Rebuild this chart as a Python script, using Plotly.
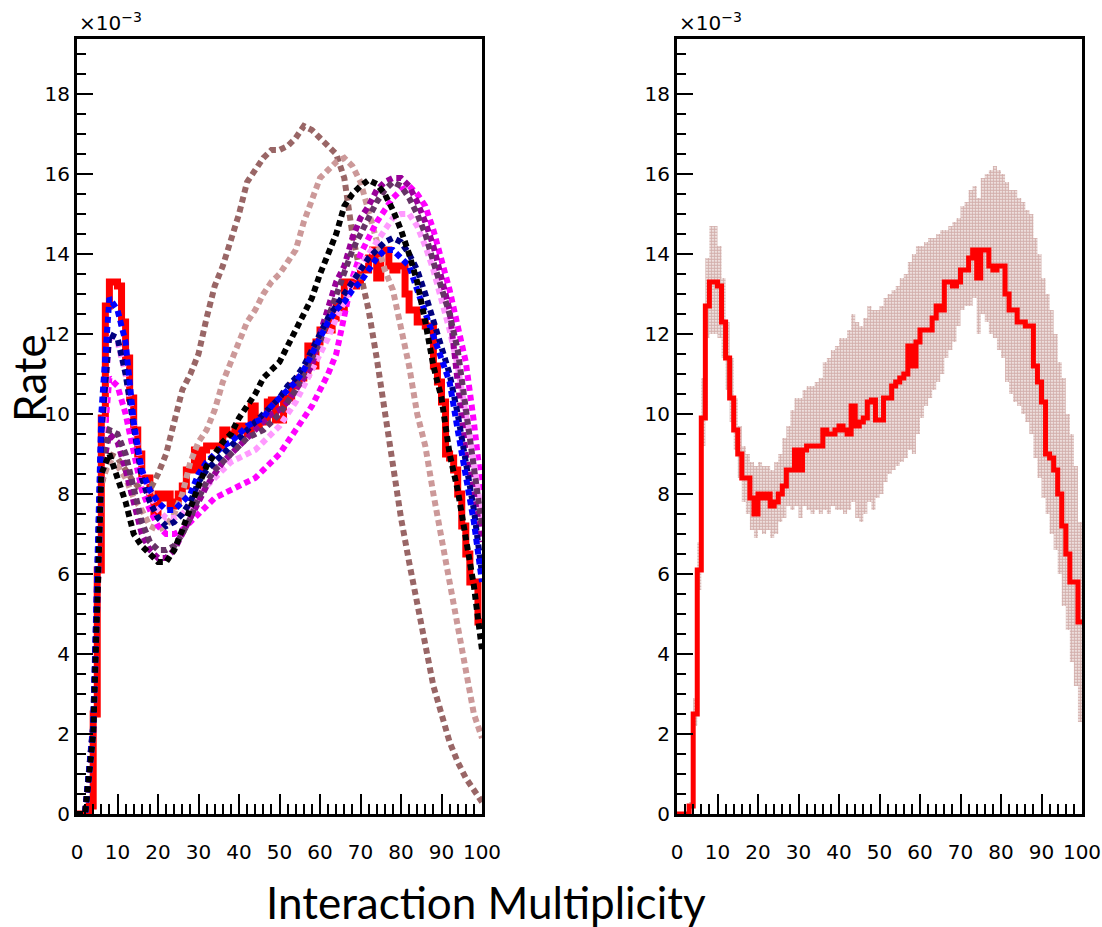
import plotly.graph_objects as go

# Histogram bin edges (right panel + red data) and sample points for dotted curves
x_edges = list(range(101))
x_pts = list(range(0, 101, 2))

# Data histogram (units of 1e-3), one value per unit bin 0..99
rate_red = [0, 0, 0, 0.2, 2.5, 6.1, 9.9, 12.7, 13.3, 13.3,
            13.2, 12.3, 11.4, 10.4, 9.6, 9.0, 8.4, 8.4, 7.9, 7.5,
            8.0, 7.9, 8.0, 7.7, 7.8, 8.0, 8.2, 8.6, 8.6, 9.1,
            8.6, 9.1, 9.2, 9.2, 9.2, 9.2, 9.6, 9.5, 9.5, 9.6,
            9.7, 9.6, 9.5, 10.2, 9.7, 9.8, 9.9, 10.3, 10.35, 9.85,
            9.85, 10.4, 10.4, 10.7, 10.8, 10.9, 11.0, 11.7, 11.2, 11.8,
            12.1, 12.1, 12.1, 12.4, 12.7, 12.6, 13.3, 13.3, 13.2, 13.3,
            13.6, 13.6, 13.9, 14.1, 13.4, 14.1, 14.1, 13.7, 13.6, 13.7,
            13.7, 13.0, 12.6, 12.6, 12.3, 12.3, 12.2, 12.2, 11.2, 10.8,
            10.3, 9.0, 8.9, 8.6, 8.0, 7.2, 6.5, 5.8, 5.8, 4.8]

# Systematic band (lower / upper edge)
band_lo = [0, 0, 0, 0.1, 2.2, 5.6, 9.2, 11.9, 12.0, 12.0,
           11.9, 11.4, 10.6, 9.8, 9.1, 8.4, 7.8, 7.5, 7.1, 6.9,
           7.1, 7.0, 7.1, 6.9, 7.0, 7.3, 7.4, 7.7, 7.6, 7.7,
           7.4, 7.7, 7.6, 7.5, 7.6, 7.5, 7.6, 7.5, 7.7, 7.6,
           7.6, 7.5, 7.6, 7.8, 7.4, 7.3, 7.5, 7.8, 7.6, 7.9,
           8.0, 8.3, 8.5, 8.6, 8.7, 8.8, 8.9, 9.1, 9.0, 9.5,
           9.9, 10.2, 10.4, 10.6, 10.8, 11.0, 11.4, 11.6, 11.8, 12.2,
           12.6, 12.7, 12.7, 12.9, 12.0, 12.5, 12.3, 12.0, 11.9, 11.6,
           11.4, 10.8, 10.5, 10.3, 10.2, 10.0, 9.8, 9.5, 8.9, 8.4,
           7.9, 7.5, 7.0, 6.6, 6.0, 5.2, 4.6, 3.8, 3.2, 2.3]
band_hi = [0, 0, 0, 0.3, 2.9, 6.8, 10.9, 13.9, 14.7, 14.7,
           14.2, 13.4, 12.3, 11.4, 10.4, 9.7, 9.2, 9.0, 8.8, 8.7,
           8.8, 8.7, 8.7, 8.6, 8.8, 9.0, 9.4, 9.7, 10.1, 10.4,
           10.4, 10.6, 10.7, 10.7, 10.8, 10.9, 11.3, 11.4, 11.6, 11.7,
           11.9, 11.9, 12.1, 12.5, 12.3, 12.2, 12.4, 12.7, 12.6, 12.6,
           12.7, 12.9, 13.0, 13.1, 13.2, 13.4, 13.5, 13.8, 14.0, 14.2,
           14.2, 14.3, 14.4, 14.4, 14.5, 14.6, 14.6, 14.7, 14.8, 14.9,
           15.2, 15.3, 15.6, 15.7, 15.4, 15.9, 16.0, 16.1, 16.2, 16.1,
           16.0, 15.8, 15.6, 15.6, 15.4, 15.3, 15.1, 15.0, 14.4, 14.0,
           13.4, 13.0, 12.6, 12.0, 11.3, 10.9, 10.0, 9.5, 8.7, 7.3]

# Simulation curves (units of 1e-3) at x = 0, 2, ..., 100
rate_drb = [0, 0, 2.0, 8.2, 9.0, 8.9, 8.6, 8.3, 8.1, 8.1,
            8.5, 9.0, 9.8, 10.6, 11.0, 11.5, 12.4, 13.2, 13.7, 14.3,
            15.0, 15.8, 16.1, 16.4, 16.6, 16.6, 16.7, 16.9, 17.2, 17.1,
            16.9, 16.7, 16.5, 15.9, 14.5, 13.5, 12.6, 11.4, 10.0, 8.7,
            7.4, 6.3, 5.3, 4.3, 3.2, 2.5, 1.8, 1.3, 0.9, 0.6,
            0.3]
rate_lr = [0, 0, 2.3, 8.3, 8.8, 8.7, 8.4, 7.9, 7.6, 7.2,
           7.1, 7.2, 7.5, 8.0, 8.8, 9.3, 9.6, 10.1, 10.8, 11.3,
           11.8, 12.3, 12.6, 13.0, 13.3, 13.5, 13.8, 14.1, 14.8, 15.4,
           15.9, 16.1, 16.3, 16.4, 16.2, 15.8, 15.1, 14.3, 13.6, 13.1,
           12.2, 11.2, 10.0, 9.2, 8.0, 6.9, 5.7, 4.5, 3.4, 2.5,
           1.9]
rate_black = [0, 0, 2.0, 8.5, 9.0, 8.4, 7.8, 7.0, 6.7, 6.5,
              6.3, 6.3, 6.6, 7.1, 7.7, 8.2, 8.7, 9.0, 9.3, 9.5,
              9.9, 10.2, 10.5, 10.9, 11.1, 11.3, 11.7, 12.1, 12.5, 12.9,
              13.5, 14.0, 14.5, 15.2, 15.5, 15.7, 15.85, 15.75, 15.5, 15.1,
              14.6, 14.0, 13.3, 12.3, 11.2, 10.4, 9.0, 8.1, 6.8, 5.7,
              4.1]
rate_blue = [0, 0, 2.2, 10.0, 12.9, 12.6, 11.8, 9.8, 8.6, 8.1,
             7.8, 7.6, 7.6, 7.8, 8.0, 8.5, 8.8, 9.0, 9.2, 9.3,
             9.5, 9.7, 9.8, 9.9, 10.2, 10.4, 10.6, 10.8, 11.1, 11.5,
             11.9, 12.3, 12.6, 12.8, 13.1, 13.3, 13.6, 13.9, 14.1, 14.1,
             13.9, 13.7, 13.1, 12.5, 11.9, 11.4, 10.8, 9.6, 8.4, 7.3,
             5.8]
rate_navy = [0, 0, 2.2, 9.5, 12.0, 11.9, 11.0, 9.6, 8.4, 7.8,
             7.4, 7.2, 7.3, 7.5, 7.8, 8.3, 8.6, 8.8, 9.0, 9.2,
             9.4, 9.6, 9.8, 10.0, 10.2, 10.4, 10.7, 10.9, 11.2, 11.6,
             12.0, 12.4, 12.7, 13.0, 13.3, 13.6, 13.9, 14.1, 14.3, 14.4,
             14.3, 14.0, 13.6, 13.0, 12.3, 11.7, 11.0, 10.0, 8.9, 7.6,
             6.0]
rate_magenta = [0, 0, 2.0, 8.5, 10.9, 10.7, 10.0, 9.0, 8.1, 7.6,
                7.2, 7.0, 7.0, 7.1, 7.3, 7.5, 7.7, 7.9, 8.0, 8.1,
                8.2, 8.3, 8.4, 8.6, 8.8, 9.0, 9.3, 9.6, 9.9, 10.2,
                10.6, 11.0, 11.5, 12.4, 13.4, 14.0, 14.4, 14.8, 15.1, 15.4,
                15.6, 15.7, 15.5, 15.2, 14.6, 13.9, 13.1, 12.2, 11.3, 9.8,
                8.0]
rate_pink = [0, 0, 2.0, 9.0, 12.0, 11.8, 11.0, 9.7, 8.6, 8.0,
             7.6, 7.4, 7.4, 7.5, 7.7, 8.0, 8.2, 8.4, 8.6, 8.8,
             8.9, 9.0, 9.1, 9.3, 9.5, 9.7, 10.0, 10.3, 10.7, 11.1,
             11.5, 11.9, 12.4, 12.8, 13.3, 13.7, 14.0, 14.3, 14.6, 14.9,
             15.0, 15.0, 14.7, 14.2, 13.6, 12.9, 12.1, 11.2, 10.1, 8.8,
             7.4]
rate_purple = [0, 0, 2.0, 8.5, 9.5, 9.3, 8.6, 7.8, 7.0, 6.6,
               6.4, 6.4, 6.6, 7.0, 7.4, 7.8, 8.2, 8.5, 8.8, 9.0,
               9.2, 9.4, 9.6, 9.8, 10.0, 10.1, 10.3, 10.6, 10.9, 11.2,
               12.0, 12.7, 13.3, 13.7, 14.4, 14.9, 15.2, 15.6, 15.8, 15.9,
               15.9, 15.7, 15.3, 14.8, 14.2, 13.4, 12.6, 10.8, 9.0, 8.0,
               6.8]
rate_dpurple = [0, 0, 2.0, 8.8, 9.6, 9.5, 9.0, 8.2, 7.3, 6.8,
                6.6, 6.6, 6.7, 7.0, 7.4, 7.9, 8.3, 8.6, 8.8, 9.0,
                9.2, 9.4, 9.5, 9.6, 9.8, 10.0, 10.3, 10.6, 11.0, 11.4,
                11.8, 12.4, 13.0, 13.6, 14.1, 14.5, 14.9, 15.3, 15.6, 15.8,
                15.7, 15.4, 15.0, 14.5, 13.8, 13.2, 12.5, 11.6, 10.2, 8.8,
                7.2]

W, H = 1102, 927
fig = go.Figure()

# left panel: data (red) underneath the dotted simulation curves
fig.add_trace(go.Scatter(x=x_edges, y=rate_red + rate_red[-1:], mode="lines",
                         line=dict(color="#ff0000", width=7, shape="hv"),
                         xaxis="x", yaxis="y"))
curves = [
    (rate_drb, "#996666"),
    (rate_lr, "#cc9999"),
    (rate_magenta, "#ff00ff"),
    (rate_pink, "#ff99ff"),
    (rate_purple, "#990099"),
    (rate_dpurple, "#663366"),
    (rate_navy, "#000080"),
    (rate_blue, "#0000ff"),
    (rate_black, "#000000"),
]
for vals, col in curves:
    fig.add_trace(go.Scatter(x=x_pts, y=vals, mode="lines",
                             line=dict(color=col, width=6, dash="6px,4px"),
                             xaxis="x", yaxis="y"))

# right panel: band + data
fig.add_trace(go.Scatter(x=x_edges, y=band_lo + band_lo[-1:], mode="lines",
                         line=dict(width=0, shape="hv"), xaxis="x2", yaxis="y2"))
fig.add_trace(go.Scatter(x=x_edges, y=band_hi + band_hi[-1:], mode="lines",
                         line=dict(width=0, shape="hv"), fill="tonexty",
                         fillcolor="rgba(255,255,255,0)",
                         fillpattern=dict(shape=".", fgcolor="#a8625c", bgcolor="rgba(255,255,255,0)",
                                          size=3, solidity=0.75),
                         xaxis="x2", yaxis="y2"))
fig.add_trace(go.Scatter(x=x_edges, y=rate_red + rate_red[-1:], mode="lines",
                         line=dict(color="#ff0000", width=5, shape="hv"),
                         xaxis="x2", yaxis="y2"))

tickfont = dict(family="DejaVu Sans, sans-serif", size=20, color="black")


def xax(dom, anchor):
    return dict(domain=dom, anchor=anchor, range=[0, 100], dtick=10, tick0=0,
                ticks="inside", ticklen=20, tickwidth=2, tickcolor="black",
                minor=dict(ticks="inside", dtick=2, ticklen=10, tickwidth=2, tickcolor="black"),
                showline=True, linewidth=3, linecolor="black", mirror=True,
                showgrid=False, zeroline=False, tickfont=tickfont, ticklabelstandoff=18,
                automargin=False)


def yax(anchor):
    return dict(domain=[1 - 814 / H, 1 - 39 / H], anchor=anchor, range=[0, 19.375],
                dtick=2, tick0=0, ticks="inside", ticklen=16, tickwidth=2, tickcolor="black",
                minor=dict(ticks="inside", dtick=0.5, ticklen=9, tickwidth=2, tickcolor="black"),
                showline=True, linewidth=3, linecolor="black", mirror=True,
                showgrid=False, zeroline=False, tickfont=tickfont, ticklabelstandoff=0,
                automargin=False)


fig.update_layout(
    width=W, height=H, showlegend=False,
    paper_bgcolor="white", plot_bgcolor="white",
    margin=dict(l=0, r=0, t=0, b=0),
    xaxis=xax([77 / W, 482 / W], "y"),
    yaxis=yax("x"),
    xaxis2=xax([677 / W, 1082 / W], "y2"),
    yaxis2=yax("x2"),
)

for x0 in (77, 677):
    fig.add_annotation(text="×10<sup>−3</sup>", x=x0 / W, y=1 - 37 / H, xref="paper", yref="paper",
                       xanchor="left", yanchor="bottom", showarrow=False,
                       font=dict(family="DejaVu Sans, sans-serif", size=20, color="black"))

fig.add_annotation(text="Rate", x=29 / W, y=1 - 378 / H, xref="paper", yref="paper",
                   xanchor="center", yanchor="middle", textangle=-90, showarrow=False,
                   font=dict(family="Lato, Open Sans, sans-serif", size=44, color="black"))
fig.add_annotation(text="Interaction Multiplicity", x=486 / W, y=1 - 902 / H, xref="paper", yref="paper",
                   xanchor="center", yanchor="middle", showarrow=False,
                   font=dict(family="Lato, Open Sans, sans-serif", size=44, color="black"))

# drop the browser's default body margin so the figure sits at the window origin
fig.write_html("out.html", config={"displayModeBar": False},
               post_script="document.body.style.margin='0px';")
